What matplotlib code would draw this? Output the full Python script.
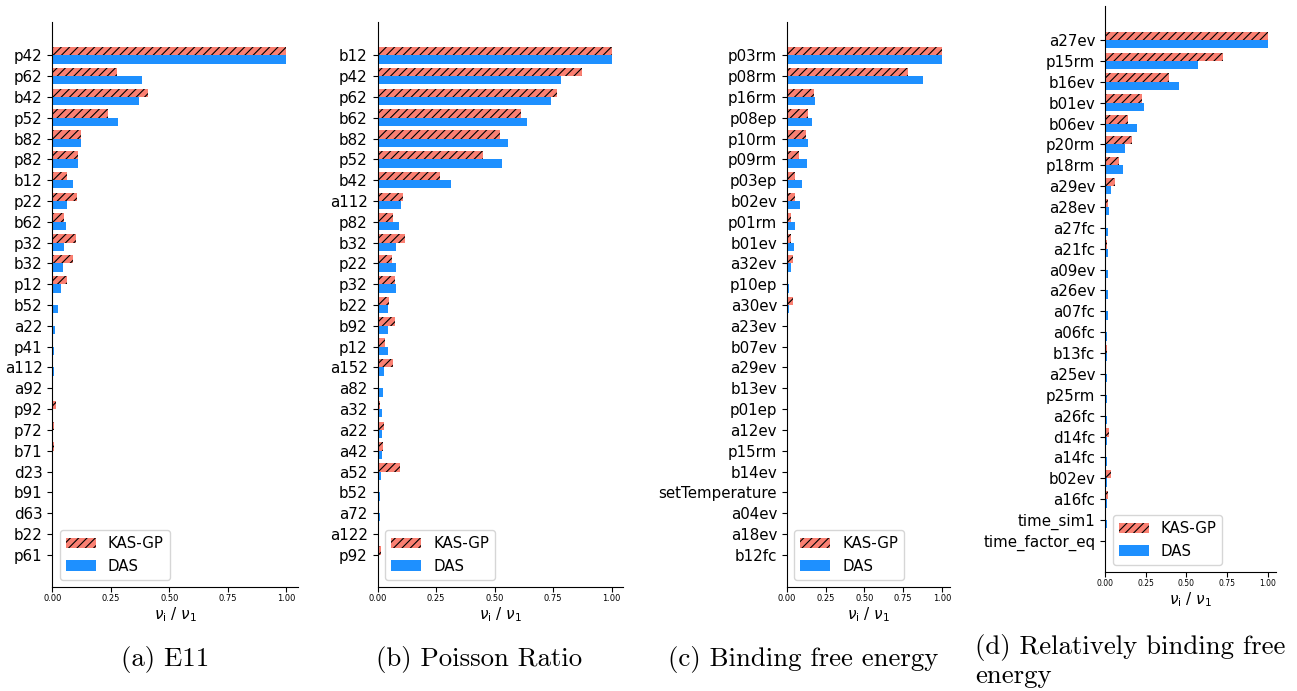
import numpy as np
import matplotlib.pyplot as plt

plt.rcParams['hatch.linewidth'] = 0.8

# (a) E11
labels_e11 = ['p42', 'p62', 'b42', 'p52', 'b82', 'p82', 'b12', 'p22', 'b62', 'p32',
              'b32', 'p12', 'b52', 'a22', 'p41', 'a112', 'a92', 'p92', 'p72', 'b71',
              'd23', 'b91', 'd63', 'b22', 'p61']
kas_e11 = [1.0, 0.275, 0.408, 0.24, 0.121, 0.111, 0.061, 0.107, 0.051, 0.101,
           0.088, 0.061, 0.002, 0.001, 0.001, 0.001, 0.0, 0.014, 0.006, 0.006,
           0.001, 0.005, 0.001, 0.005, 0.0]
das_e11 = [1.0, 0.385, 0.372, 0.282, 0.121, 0.108, 0.09, 0.063, 0.057, 0.05,
           0.048, 0.039, 0.023, 0.011, 0.006, 0.006, 0.004, 0.003, 0.003, 0.003,
           0.003, 0.002, 0.002, 0.001, 0.002]

# (b) Poisson ratio
labels_pr = ['b12', 'p42', 'p62', 'b62', 'b82', 'p52', 'b42', 'a112', 'p82', 'b32',
             'p22', 'p32', 'b22', 'b92', 'p12', 'a152', 'a82', 'a32', 'a22', 'a42',
             'a52', 'b52', 'a72', 'a122', 'p92']
kas_pr = [1.0, 0.872, 0.767, 0.613, 0.524, 0.451, 0.267, 0.107, 0.067, 0.118,
          0.061, 0.076, 0.051, 0.073, 0.033, 0.067, 0.006, 0.01, 0.027, 0.023,
          0.096, 0.005, 0.008, 0.001, 0.014]
das_pr = [1.0, 0.782, 0.743, 0.639, 0.556, 0.534, 0.312, 0.101, 0.093, 0.08,
          0.08, 0.08, 0.046, 0.046, 0.044, 0.027, 0.023, 0.021, 0.021, 0.02,
          0.013, 0.01, 0.01, 0.007, 0.004]

# (c) binding free energy
labels_bfe = ['p03rm', 'p08rm', 'p16rm', 'p08ep', 'p10rm', 'p09rm', 'p03ep', 'b02ev',
              'p01rm', 'b01ev', 'a32ev', 'p10ep', 'a30ev', 'a23ev', 'b07ev', 'a29ev',
              'b13ev', 'p01ep', 'a12ev', 'p15rm', 'b14ev', 'setTemperature', 'a04ev',
              'a18ev', 'b12fc']
kas_bfe = [1.0, 0.785, 0.178, 0.135, 0.123, 0.082, 0.056, 0.052, 0.026, 0.026,
           0.039, 0.009, 0.039, 0.006, 0.002, 0.011, 0.004, 0.006, 0.006, 0.002,
           0.005, 0.005, 0.002, 0.002, 0.001]
das_bfe = [1.0, 0.88, 0.183, 0.161, 0.14, 0.129, 0.099, 0.086, 0.052, 0.047,
           0.03, 0.015, 0.013, 0.011, 0.011, 0.011, 0.011, 0.011, 0.01, 0.009,
           0.008, 0.008, 0.007, 0.006, 0.005]

# (d) relative binding free energy
labels_rbfe = ['a27ev', 'p15rm', 'b16ev', 'b01ev', 'b06ev', 'p20rm', 'p18rm', 'a29ev',
               'a28ev', 'a27fc', 'a21fc', 'a09ev', 'a26ev', 'a07fc', 'a06fc', 'b13fc',
               'a25ev', 'p25rm', 'a26fc', 'd14fc', 'a14fc', 'b02ev', 'a16fc',
               'time_sim1', 'time_factor_eq']
kas_rbfe = [1.0, 0.728, 0.396, 0.225, 0.14, 0.167, 0.087, 0.064, 0.021, 0.001,
            0.01, 0.001, 0.0, 0.0, 0.0, 0.01, 0.0, 0.0, 0.0, 0.025,
            0.0, 0.037, 0.019, 0.0, 0.0]
das_rbfe = [1.0, 0.573, 0.456, 0.239, 0.194, 0.12, 0.111, 0.037, 0.023, 0.021,
            0.017, 0.017, 0.017, 0.016, 0.015, 0.015, 0.015, 0.015, 0.014, 0.013,
            0.013, 0.011, 0.011, 0.009, 0.008]

captions = ['(a) E11', '(b) Poisson Ratio', '(c) Binding free energy',
            '(d) Relatively binding free\nenergy']


def plot_sensitivity(ax, labels, kas, das, tick_size, ylim):
    n = len(labels)
    y = np.arange(n)[::-1]
    ax.barh(y + 0.2, kas, height=0.4, color='salmon', hatch='////', label='KAS-GP')
    ax.barh(y - 0.2, das, height=0.4, color='dodgerblue', label='DAS')
    ax.set_yticks(y)
    ax.set_yticklabels(labels, fontsize=10.8)
    ax.set_xlim(0, 1.05)
    ax.set_xticks([0, 0.25, 0.5, 0.75, 1.0])
    ax.tick_params(axis='x', labelsize=tick_size, pad=1.5)
    ax.set_ylim(ylim[0], n - 1 + ylim[1])
    ax.set_xlabel(r'$\nu_\mathrm{i}$ / $\nu_1$', fontsize=11, labelpad=2)
    ax.spines['top'].set_visible(False)
    ax.spines['right'].set_visible(False)
    ax.legend(loc='lower left', fontsize=10.8)


fig = plt.figure(figsize=(12.97, 6.91), dpi=100)

ax_a = fig.add_axes([0.0403, 0.1505, 0.1894, 0.8177])
ax_b = fig.add_axes([0.2911, 0.1505, 0.1894, 0.8177])
ax_c = fig.add_axes([0.6066, 0.1505, 0.1255, 0.8177])
ax_d = fig.add_axes([0.8520, 0.1722, 0.1317, 0.8191])

plot_sensitivity(ax_a, labels_e11, kas_e11, das_e11, 6, (-1.55, 1.6))
plot_sensitivity(ax_b, labels_pr, kas_pr, das_pr, 6, (-1.55, 1.6))
plot_sensitivity(ax_c, labels_bfe, kas_bfe, das_bfe, 6, (-1.55, 1.6))
plot_sensitivity(ax_d, labels_rbfe, kas_rbfe, das_rbfe, 5.5, (-1.49, 1.63))

# subfigure captions
cap_style = dict(fontfamily='cmr10', fontsize=19.3)
fig.text(0.1272, 0.0449, captions[0], ha='center', va='center', **cap_style)
fig.text(0.3690, 0.0449, captions[1], ha='center', va='center', **cap_style)
fig.text(0.6191, 0.0449, captions[2], ha='center', va='center', **cap_style)
fig.text(0.7517, 0.0434, captions[3], ha='left', va='center', linespacing=1.2,
         **cap_style)

fig.savefig('out.png', dpi=100)
